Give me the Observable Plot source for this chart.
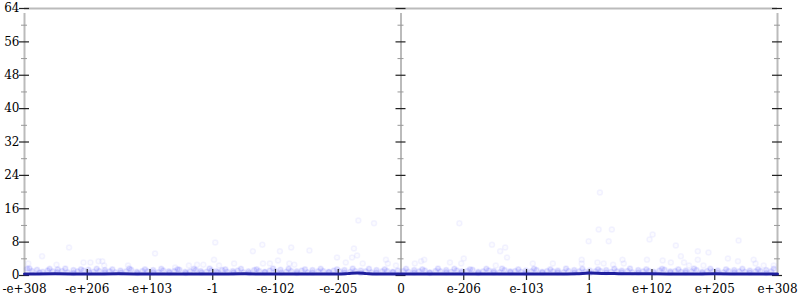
<!DOCTYPE html>
<html>
<head>
<meta charset="utf-8">
<script src="https://cdn.jsdelivr.net/npm/d3@7"></script>
<script src="https://cdn.jsdelivr.net/npm/@observablehq/plot@0.6"></script>
<style>
  html, body { margin: 0; padding: 0; background: #fff; }
  #chart svg { display: block; }
  #chart svg text { font-family: "DejaVu Serif", serif !important; font-size: 12px !important; }
</style>
</head>
<body>
<div id="chart"></div>
<script>
// x tick positions (encoded exponent bands) and their labels
const xTickValues = [-6, -5, -4, -3, -2, -1, 0, 1, 2, 3, 4, 5, 6];
const xTickLabels = ["-e+308", "-e+206", "-e+103", "-1", "-e-102", "-e-205", "0", "e-206", "e-103", "1", "e+102", "e+205", "e+308"];
const yMajor = [0, 8, 16, 24, 32, 40, 48, 56, 64];
const yMinor = [4, 12, 20, 28, 36, 44, 52, 60];

// scattered sample points (sparse, above the dense band)
const sparseX = [-5.29, -5.72, -3.92, -5.94, -5.06, -4.95, -4.82, -4.76, -4.73, -4.35, -5.49, -3.15, -3.25, -3.6, -3.38,
  -2.96, -0.68, -0.43, -2.21, -2.36, -1.75, -1.93, -1.46, -0.75, -0.70, -1.02, -0.78, -2.98, -2.9, -2.66, -2.2, -2.09, -1.96, -1.78, -1.7, -0.88, -0.61, -0.24, -0.21, -0.08,
  0.93, 2.99, 1.45, 1.66, 1.58, 1.69, 1.0, 0.37, 0.32, 0.22, 0.78, 2.1, 2.42, 2.88, 2.88, 0.96, 1.51,
  3.17, 3.15, 3.36, 3.31, 4.01, 3.96, 4.38, 5.38, 4.73, 4.9, 3.53, 3.92, 4.17, 4.46, 4.51, 4.73, 5.21, 5.62, 5.37, 3.13, 3.23, 3.38, 3.55, 4.3, 4.59, 4.82, 5.65, 5.78, 5.94];
const sparseY = [6.7, 4.6, 5.3, 2.9, 3.1, 3.1, 3.4, 3.4, 2.4, 2.4, 2.6, 2.6, 2.6, 1.9, 2.4,
  7.9, 13.2, 12.5, 7.4, 5.8, 6.7, 5.8, 6.0, 6.5, 4.8, 4.3, 4.3, 3.8, 2.4, 2.9, 2.9, 2.9, 3.6, 2.9, 2.6, 3.1, 2.9, 3.8, 2.9, 2.4,
  12.5, 8.2, 7.4, 6.7, 5.8, 4.3, 4.1, 3.8, 3.4, 2.9, 3.1, 2.9, 2.9, 3.8, 2.9, 2.9, 2.4,
  19.9, 11.0, 11.0, 8.2, 9.8, 8.6, 7.2, 8.4, 5.8, 5.5, 3.8, 3.8, 3.6, 4.6, 3.1, 3.8, 4.1, 3.8, 3.4, 3.1, 2.9, 2.6, 2.9, 3.1, 2.4, 2.4, 2.9, 2.4, 2.4];

// dense band of sample points near the bottom
const bandX = [-5.96, -5.88, -5.8, -5.71, -5.63, -5.55, -5.47, -5.4, -5.31, -5.22, -5.15, -5.06, -4.98, -4.9, -4.81, -4.72, -4.64, -4.55, -4.47, -4.38, -4.3, -4.21, -4.12, -4.04, -3.95, -3.87, -3.79, -3.7, -3.61, -3.53, -3.44, -3.36, -3.27, -3.19, -3.1, -3.02,
  -2.94, -2.85, -2.77, -2.68, -2.6, -2.51, -2.43, -2.34, -2.26, -2.17, -2.09, -2.0, -1.92, -1.83, -1.75, -1.66, -1.58, -1.49, -1.41, -1.32, -1.24, -1.15, -1.07, -0.98, -0.9, -0.81, -0.73, -0.64, -0.56, -0.47, -0.39, -0.3, -0.22, -0.13, -0.05,
  0.04, 0.12, 0.21, 0.29, 0.38, 0.46, 0.55, 0.63, 0.72, 0.8, 0.89, 0.97, 1.06, 1.14, 1.23, 1.31, 1.4, 1.48, 1.57, 1.65, 1.74, 1.82, 1.91, 1.99, 2.08, 2.16, 2.25, 2.33, 2.42, 2.5, 2.59, 2.67, 2.76, 2.84, 2.93,
  3.01, 3.1, 3.18, 3.27, 3.35, 3.44, 3.52, 3.61, 3.69, 3.78, 3.86, 3.95, 4.03, 4.12, 4.2, 4.29, 4.37, 4.46, 4.54, 4.63, 4.71, 4.8, 4.88, 4.97, 5.05, 5.14, 5.22, 5.31, 5.39, 5.48, 5.56, 5.65, 5.73, 5.82, 5.9,
  -5.92, -5.6, -5.35, -5.1, -4.85, -4.6, -4.33, -4.08, -3.82, -3.56, -3.3, -3.05, -2.8, -2.55, -2.3, -2.04, -1.79, -1.53, -1.28, -1.02, -0.77, -0.51, -0.26,
  0.08, 0.34, 0.59, 0.85, 1.1, 1.36, 1.61, 1.87, 2.12, 2.38, 2.63, 2.89, 3.14, 3.4, 3.65, 3.91, 4.16, 4.42, 4.67, 4.93, 5.18, 5.44, 5.69, 5.94,
  -5.76, -5.48, -5.22, -4.97, -4.72, -4.46, -4.2, -3.95, -3.69, -3.43, -3.18, -2.92, -2.67, -2.42, -2.17, -1.91, -1.66, -1.41, -1.15, -0.9, -0.64, -0.39, -0.13,
  0.21, 0.46, 0.72, 0.97, 1.23, 1.48, 1.74, 1.99, 2.25, 2.5, 2.76, 3.01, 3.27, 3.52, 3.78, 4.03, 4.29, 4.54, 4.8, 5.05, 5.31, 5.56, 5.82];
const bandY = [1.6, 1.1, 1.4, 0.9, 1.2, 1.0, 1.5, 1.1, 0.8, 1.3, 1.0, 1.2, 1.4, 0.9, 1.1, 1.3, 1.0, 0.8, 1.2, 1.0, 1.4, 0.9, 1.1, 1.0, 1.3, 0.8, 1.2, 1.0, 1.1, 1.4, 0.9, 1.0, 1.3, 1.1, 0.9, 1.2,
  1.0, 1.3, 0.9, 1.1, 1.2, 0.8, 1.0, 1.3, 1.1, 0.9, 1.2, 1.0, 1.4, 0.9, 1.1, 1.0, 1.2, 0.8, 1.3, 1.0, 1.1, 0.9, 1.2, 1.0, 1.3, 0.9, 1.1, 1.2, 1.0, 0.8, 1.3, 1.0, 1.1, 0.9, 1.2,
  1.1, 0.9, 1.3, 1.0, 1.2, 0.8, 1.1, 1.0, 1.3, 0.9, 1.2, 1.0, 1.1, 1.4, 0.9, 1.0, 1.2, 1.1, 0.8, 1.3, 1.0, 1.1, 0.9, 1.2, 1.0, 1.3, 0.9, 1.1, 1.0, 1.2, 0.8, 1.1, 1.3, 1.0, 0.9,
  1.2, 1.0, 1.1, 1.3, 0.9, 1.0, 1.2, 1.1, 0.8, 1.3, 1.0, 1.1, 0.9, 1.2, 1.4, 1.0, 1.1, 0.9, 1.2, 1.0, 1.3, 0.9, 1.1, 1.0, 1.2, 0.8, 1.1, 1.3, 1.0, 0.9, 1.2, 1.0, 1.1, 1.3, 1.0,
  1.7, 1.6, 1.7, 1.5, 1.6, 1.5, 1.7, 1.5, 1.6, 1.5, 1.6, 1.7, 1.5, 1.6, 1.5, 1.7, 1.6, 1.5, 1.6, 1.5, 1.7, 1.6, 1.5,
  1.6, 1.5, 1.7, 1.6, 1.5, 1.6, 1.7, 1.5, 1.6, 1.5, 1.7, 1.6, 1.5, 1.6, 1.7, 1.5, 1.6, 1.5, 1.7, 1.6, 1.5, 1.6, 1.5, 1.6,
  0.7, 0.8, 0.6, 0.7, 0.8, 0.7, 0.6, 0.8, 0.7, 0.6, 0.7, 0.8, 0.7, 0.6, 0.8, 0.7, 0.6, 0.7, 0.8, 0.7, 0.6, 0.7, 0.8,
  0.7, 0.6, 0.8, 0.7, 0.6, 0.7, 0.8, 0.6, 0.7, 0.8, 0.7, 0.6, 0.7, 0.8, 0.7, 0.6, 0.7, 0.8, 0.6, 0.7, 0.8, 0.7, 0.6];

// smoothed estimate (dark line)
const lineX = [-6, -5.5, -5, -4.5, -4, -3.5, -3, -2.5, -2, -1.5, -1, -0.85, -0.7, -0.55, -0.4, 0, 0.5, 1, 1.5, 2, 2.5, 2.8, 3.0, 3.2, 3.4, 3.6, 4, 4.5, 5, 5.5, 6];
const lineY = [0.35, 0.4, 0.35, 0.4, 0.35, 0.35, 0.35, 0.4, 0.35, 0.35, 0.35, 0.45, 0.6, 0.45, 0.35, 0.35, 0.35, 0.35, 0.35, 0.35, 0.35, 0.4, 0.6, 0.5, 0.45, 0.4, 0.4, 0.35, 0.4, 0.35, 0.35];

const sparse = sparseX.map((x, i) => ({x, y: sparseY[i]}));
const band = bandX.map((x, i) => ({x, y: bandY[i]}));
const line = lineX.map((x, i) => ({x, y: lineY[i]}));
const frameX = [-6, 0, 6];
const innerXTicks = xTickValues.filter(d => !frameX.includes(d));
const font = {fontFamily: "DejaVu Serif", fontSize: 12};

const plot = Plot.plot({
  width: 800,
  height: 300,
  marginLeft: 24,
  marginRight: 23,
  marginTop: 8,
  marginBottom: 25,
  style: {fontFamily: "DejaVu Serif", fontSize: "12px", color: "black", background: "white"},
  x: {domain: [-6, 6], axis: null, label: null},
  y: {domain: [0, 64], axis: null, label: null},
  marks: [
    // frame
    Plot.ruleY([64], {x1: -6, x2: 6, stroke: "#bbb", strokeWidth: 2}),
    Plot.ruleX(frameX, {y1: 0, y2: 64, insetBottom: -5, stroke: "#bbb", strokeWidth: 2}),
    // points
    Plot.dot(band, {x: "x", y: "y", r: 2.5, fill: "#4a4aff", fillOpacity: 0.14, stroke: "#4a4aff", strokeOpacity: 0.1}),
    Plot.dot(sparse, {x: "x", y: "y", r: 2.5, fill: "#4a4aff", fillOpacity: 0.025, stroke: "#4a4aff", strokeOpacity: 0.06}),
    // y ticks on each vertical
    ...frameX.map(fx => Plot.ruleY(yMinor, {y: d => d, x1: fx, x2: fx, insetLeft: -3, insetRight: -3, stroke: "#999", strokeWidth: 1})),
    ...frameX.map(fx => Plot.ruleY(yMajor, {y: d => d, x1: fx, x2: fx, insetLeft: -5, insetRight: -5, stroke: "#222", strokeWidth: 1.2})),
    // x ticks
    Plot.ruleX(innerXTicks, {x: d => d, y1: 0, y2: 0, insetTop: -6, insetBottom: -5, stroke: "#222", strokeWidth: 1.2}),
    // line
    Plot.line(line, {x: "x", y: "y", stroke: "#1f1f9e", strokeWidth: 3, curve: "monotone-x"}),
    // labels
    Plot.axisY(yMajor, {anchor: "left", tickSize: 0, tickPadding: 5, fill: "black", label: null, ...font}),
    Plot.axisX(xTickValues, {anchor: "bottom", tickSize: 0, tickPadding: 9, fill: "black", label: null, ...font,
      tickFormat: d => xTickLabels[xTickValues.indexOf(d)]})
  ]
});
document.getElementById("chart").appendChild(plot);
</script>
</body>
</html>
